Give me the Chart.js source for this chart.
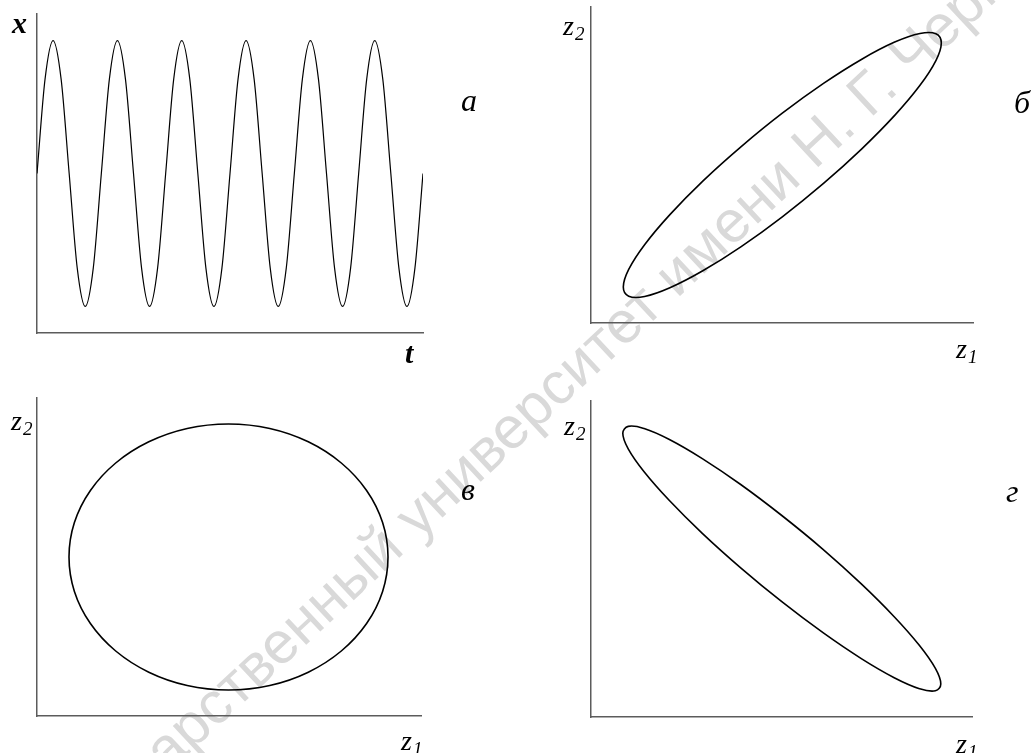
<!DOCTYPE html>
<html lang="ru">
<head>
<meta charset="utf-8">
<script src="https://cdn.jsdelivr.net/npm/chart.js@4.4.1/dist/chart.umd.min.js"></script>
<style>
  html, body { margin: 0; padding: 0; background: #fff; }
  #page { position: relative; width: 1033px; height: 753px; overflow: hidden; background: #fff; }
  canvas { position: absolute; left: 0; top: 0; z-index: 2; }
  .lbl { position: absolute; z-index: 3; font-family: "Liberation Serif", "Times New Roman", Times, "DejaVu Serif", serif;
         font-style: italic; font-size: 28px; line-height: 1; color: #000; white-space: nowrap; }
  .lbl .sb { font-size: 19px; position: relative; top: 5px; margin-left: 1px; }
  .big { font-size: 30px; font-weight: bold; }
  .tag { font-size: 32px; }
  #wm { position: absolute; left: 0; top: 0; z-index: 1; font-family: "Liberation Sans", Arial, sans-serif;
        font-size: 59px; line-height: 1; color: #d9d9d9; white-space: nowrap; }
</style>
</head>
<body>
<div id="page">
  <div id="wm">Саратовский государ<span id="wmMark">ственный</span> университет имени Н. Г. Чернышевского</div>

  <canvas id="chartA" width="1033" height="753"></canvas>
  <canvas id="chartB" width="1033" height="753"></canvas>
  <canvas id="chartV" width="1033" height="753"></canvas>
  <canvas id="chartG" width="1033" height="753"></canvas>

  <span class="lbl big" style="left:12px; top:8px;">x</span>
  <span class="lbl big" style="left:405px; top:338px;">t</span>
  <span class="lbl tag" style="left:461px; top:84px;">а</span>

  <span class="lbl" style="left:563px; top:12px;">z<span class="sb">2</span></span>
  <span class="lbl" style="left:956px; top:335px;">z<span class="sb">1</span></span>
  <span class="lbl tag" style="left:1014px; top:86px;">б</span>

  <span class="lbl" style="left:11px; top:407px;">z<span class="sb">2</span></span>
  <span class="lbl" style="left:401px; top:727px;">z<span class="sb">1</span></span>
  <span class="lbl tag" style="left:461px; top:473px;">в</span>

  <span class="lbl" style="left:564px; top:412px;">z<span class="sb">2</span></span>
  <span class="lbl" style="left:956px; top:730px;">z<span class="sb">1</span></span>
  <span class="lbl tag" style="left:1006px; top:475px;">г</span>
</div>

<script>
const W = 1033
const H = 753

// а: x(t), eight samples per period, six periods
const xWave = [
    0, 0.71, 1, 0.71, 0, -0.71, -1, -0.71,
    0, 0.71, 1, 0.71, 0, -0.71, -1, -0.71,
    0, 0.71, 1, 0.71, 0, -0.71, -1, -0.71,
    0, 0.71, 1, 0.71, 0, -0.71, -1, -0.71,
    0, 0.71, 1, 0.71, 0, -0.71, -1, -0.71,
    0, 0.71, 1, 0.71, 0, -0.71, -1, -0.71,
    0
]

// б: phase portrait, small phase shift
const bZ1 = [350.3, 344.9, 329.0, 303.7, 270.8, 232.5, 191.3, 150.2, 111.8, 78.9, 53.6, 37.7,
             32.3, 37.7, 53.6, 78.9, 111.8, 150.2, 191.3, 232.5, 270.8, 303.7, 329.0, 344.9]
const bZ2 = [280.0, 289.2, 289.5, 280.9, 263.8, 239.6, 209.8, 176.4, 141.9, 108.4, 78.3, 53.6,
             36.0, 26.8, 26.5, 35.2, 52.2, 76.4, 106.2, 139.6, 174.2, 207.6, 237.7, 262.4]

// в: quarter-period shift
const vZ1 = [351.0, 345.6, 329.6, 304.3, 271.3, 232.8, 191.5, 150.2, 111.8, 78.7, 53.4, 37.4,
             32.0, 37.4, 53.4, 78.7, 111.8, 150.2, 191.5, 232.8, 271.3, 304.3, 329.6, 345.6]
const vZ2 = [159.0, 193.4, 225.5, 253.0, 274.2, 287.5, 292.0, 287.5, 274.2, 253.0, 225.5, 193.4,
             159.0, 124.6, 92.5, 65.0, 43.8, 30.5, 26.0, 30.5, 43.8, 65.0, 92.5, 124.6]

// г: nearly opposite phase
const gZ1 = [349.8, 344.4, 328.5, 303.2, 270.3, 232.0, 190.8, 149.7, 111.3, 78.4, 53.1, 37.2,
             31.8, 37.2, 53.1, 78.4, 111.3, 149.7, 190.8, 232.0, 270.3, 303.2, 328.5, 344.4]
const gZ2 = [33.1, 48.6, 71.5, 100.3, 133.1, 167.7, 201.5, 232.5, 258.4, 277.5, 288.5, 290.6,
             283.7, 268.2, 245.3, 216.5, 183.7, 149.2, 115.3, 84.3, 58.4, 39.3, 28.3, 26.2]

// treat a dataset marked "closed" as a loop, the way the radar chart does
const closedLoop = {
    id: 'closedLoop',
    afterDatasetUpdate(chart, args){
        if(chart.data.datasets[args.index].closed){
            args.meta.dataset._loop = true
            args.meta.dataset._fullLoop = true
        }
    }
}

function axis(min, max){
    return {
        type: 'linear',
        min: min,
        max: max,
        grid: { display: false, drawTicks: false },
        ticks: { display: false },
        border: { display: true, color: '#5c5c5c', width: 1.5 }
    }
}

function makeChart(id, box, points, xRange, yRange, line){
    return new Chart(document.getElementById(id), {
        type: 'line',
        data: {
            datasets: [Object.assign({
                data: points,
                borderColor: '#000',
                pointRadius: 0,
                fill: false
            }, line)]
        },
        options: {
            responsive: false,
            animation: false,
            events: [],
            layout: { padding: { left: box[0], top: box[1], right: W - box[2], bottom: H - box[3] } },
            plugins: { legend: { display: false }, tooltip: { enabled: false } },
            scales: { x: axis(xRange[0], xRange[1]), y: axis(yRange[0], yRange[1]) }
        },
        plugins: [closedLoop]
    })
}

const pairs = (xs, ys) => xs.map((x, i) => ({ x: x, y: ys[i] }))

makeChart('chartA', [37, 14, 423, 333], xWave.map((v, i) => ({ x: i, y: v })), [0, 48], [-1.2, 1.2],
    { borderWidth: 1.2, cubicInterpolationMode: 'monotone' })

makeChart('chartB', [591, 7, 973, 323], pairs(bZ1, bZ2), [0, 382], [0, 316],
    { borderWidth: 1.6, tension: 0.4, closed: true })

makeChart('chartV', [37, 398, 421, 716], pairs(vZ1, vZ2), [0, 384], [0, 318],
    { borderWidth: 1.6, tension: 0.4, closed: true })

makeChart('chartG', [591, 401, 972, 717], pairs(gZ1, gZ2), [0, 381], [0, 316],
    { borderWidth: 1.6, tension: 0.4, closed: true })

// diagonal watermark line
const wm = document.getElementById('wm')
const mark = document.getElementById('wmMark')
const fs = 59
const ox = mark.offsetLeft
const oy = fs * 0.8465
wm.style.transformOrigin = ox + 'px ' + oy + 'px'
wm.style.left = (216 - ox) + 'px'
wm.style.top = (730 - oy) + 'px'
wm.style.transform = 'rotate(-43deg)'
</script>
</body>
</html>
